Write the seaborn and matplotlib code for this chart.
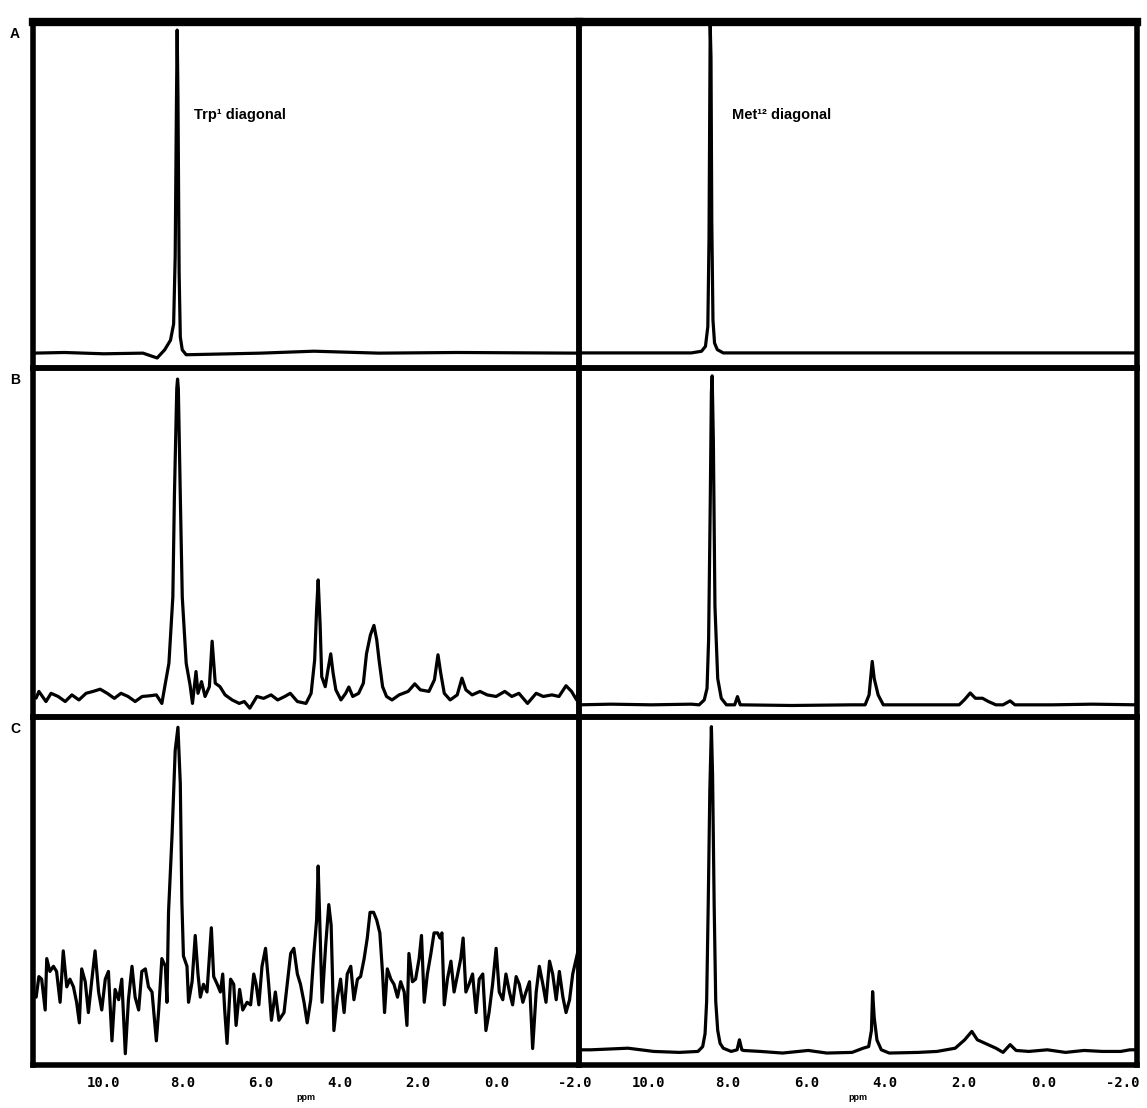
import matplotlib
matplotlib.use("Agg")
import matplotlib.pyplot as plt
import seaborn as sns

# ---------------- data (ppm, relative intensity) ----------------
# Panel A, left: Trp1 diagonal
a_trp_ppm = [11.80, 11.0, 10.0, 9.0, 8.64, 8.45, 8.30, 8.22, 8.18, 8.15, 8.13, 8.11, 8.08, 8.05, 8.00, 7.90, 6.0, 4.65, 3.0, 1.0, -2.10]
a_trp_int = [0.0, 0.002, -0.002, 0.0, -0.015, 0.01, 0.04, 0.09, 0.3, 0.75, 1.0, 0.8, 0.25, 0.05, 0.01, -0.005, 0.0, 0.006, 0.0, 0.002, 0.0]

# Panel A, right: Met diagonal
a_met_ppm = [11.75, 9.92, 8.91, 8.65, 8.55, 8.49, 8.46, 8.43, 8.41, 8.39, 8.36, 8.32, 8.25, 8.10, 5.86, 3.83, 1.80, -0.23, -2.37]
a_met_int = [0.0, 0.0, 0.0, 0.005, 0.02, 0.08, 0.35, 1.0, 0.9, 0.4, 0.1, 0.03, 0.01, 0.0, 0.0, 0.0, 0.0, 0.0, 0.0]

# Panel B, left
b_trp_ppm = [11.72, 11.65, 11.47, 11.34, 11.16, 10.98, 10.81, 10.63, 10.45, 10.27, 10.09, 9.91, 9.73, 9.56, 9.38,
             9.20, 9.02, 8.84, 8.66, 8.52, 8.44, 8.34, 8.24, 8.20, 8.14, 8.12, 8.10, 8.05, 8.00, 7.90, 7.80,
             7.74, 7.65, 7.60, 7.51, 7.42, 7.31, 7.24, 7.16, 7.04, 6.91, 6.73, 6.55, 6.42, 6.28, 6.10, 5.93,
             5.74, 5.57, 5.39, 5.25, 5.07, 4.85, 4.72, 4.63, 4.58, 4.54, 4.49, 4.45, 4.36, 4.29, 4.22, 4.16,
             4.09, 3.96, 3.84, 3.76, 3.66, 3.51, 3.39, 3.31, 3.21, 3.12, 3.05, 2.99, 2.90, 2.80, 2.66, 2.48,
             2.25, 2.08, 1.94, 1.72, 1.58, 1.49, 1.42, 1.33, 1.18, 1.00, 0.88, 0.78, 0.62, 0.42, 0.24, 0.01,
             -0.21, -0.39, -0.57, -0.79, -1.01, -1.19, -1.41, -1.59, -1.77, -1.91, -2.04, -2.10]
b_trp_int = [-0.01, 0.011, -0.021, 0.005, -0.005, -0.021, 0.0, -0.016, 0.005, 0.011, 0.018, 0.005, -0.011, 0.005, -0.005,
             -0.021, -0.005, -0.003, 0.0, -0.027, 0.03, 0.10, 0.31, 0.63, 0.97, 1.0, 0.97, 0.63, 0.31, 0.10, 0.03,
             -0.027, 0.074, 0.005, 0.042, -0.005, 0.026, 0.17, 0.037, 0.026, 0.0, -0.016, -0.027, -0.021, -0.042, -0.005, -0.011,
             0.0, -0.016, -0.005, 0.005, -0.021, -0.027, 0.005, 0.11, 0.27, 0.364, 0.22, 0.058, 0.026, 0.08, 0.13, 0.069,
             0.016, -0.016, 0.005, 0.025, -0.005, 0.005, 0.037, 0.13, 0.19, 0.22, 0.175, 0.11, 0.026, -0.005, -0.016, 0.0,
             0.011, 0.035, 0.016, 0.011, 0.048, 0.127, 0.069, 0.005, -0.016, 0.0, 0.053, 0.016, 0.0, 0.011, 0.0, -0.005,
             0.011, -0.005, 0.005, -0.027, 0.005, -0.005, 0.0, -0.005, 0.029, 0.011, -0.016, 0.02]

# Panel B, right
b_met_ppm = [11.75, 10.94, 9.92, 8.91, 8.71, 8.58, 8.51, 8.47, 8.43, 8.40, 8.38, 8.35, 8.31, 8.24, 8.15, 8.02,
             7.81, 7.74, 7.67, 6.37, 4.85, 4.51, 4.41, 4.33, 4.28, 4.18, 4.05, 3.32, 2.13, 2.00, 1.85, 1.72,
             1.54, 1.39, 1.20, 1.02, 0.84, 0.72, -0.23, -1.24, -2.37]
b_met_int = [0.0, 0.002, 0.0, 0.002, 0.0, 0.015, 0.05, 0.2, 0.6, 0.95, 1.0, 0.8, 0.3, 0.08, 0.02, 0.0,
             0.0, 0.025, 0.0, -0.002, 0.0, 0.0, 0.03, 0.132, 0.08, 0.03, 0.0, 0.0, 0.0, 0.015, 0.036, 0.02,
             0.02, 0.01, 0.0, 0.0, 0.012, 0.0, 0.0, 0.002, 0.0]

# Panel C, left (noisy)
c_trp_ppm = [11.72, 11.65, 11.58, 11.49, 11.45, 11.37, 11.28, 11.20, 11.11, 11.03, 10.94, 10.86, 10.77, 10.69, 10.62,
             10.56, 10.47, 10.39, 10.30, 10.22, 10.13, 10.05, 9.96, 9.88, 9.79, 9.71, 9.62, 9.54, 9.45, 9.37,
             9.28, 9.20, 9.11, 9.03, 8.94, 8.86, 8.77, 8.66, 8.60, 8.52, 8.43, 8.39,
             8.35, 8.26, 8.18, 8.11, 8.05, 8.01, 7.97, 7.88, 7.84, 7.75, 7.67, 7.60, 7.54, 7.46, 7.37, 7.26,
             7.20, 7.11, 7.03, 6.97, 6.92, 6.86, 6.77, 6.69, 6.63, 6.54, 6.46, 6.35, 6.26, 6.18, 6.12, 6.05,
             5.97, 5.88, 5.80, 5.73, 5.63, 5.54, 5.41, 5.33, 5.24, 5.16, 5.07, 4.99,
             4.90, 4.82, 4.73, 4.65, 4.58, 4.54, 4.50, 4.44, 4.35, 4.27, 4.21, 4.14, 4.05, 3.97, 3.88, 3.80,
             3.71, 3.63, 3.54, 3.46, 3.37, 3.29, 3.22, 3.13, 3.05, 2.97, 2.90, 2.85, 2.78, 2.69, 2.61, 2.52,
             2.44, 2.35, 2.28, 2.23, 2.14, 2.06, 1.97, 1.91, 1.84, 1.76, 1.67, 1.59, 1.50, 1.44,
             1.39, 1.33, 1.25, 1.16, 1.08, 0.99, 0.91, 0.85, 0.78, 0.70, 0.61, 0.52, 0.44, 0.35, 0.27, 0.19,
             0.10, 0.01, -0.07, -0.16, -0.24, -0.33, -0.41, -0.50, -0.58, -0.67, -0.75, -0.84, -0.92, -1.01,
             -1.09, -1.18, -1.26, -1.35, -1.43, -1.52, -1.60, -1.69, -1.77, -1.86, -1.94, -2.03, -2.09]
c_trp_int = [-0.05, 0.03, 0.02, -0.10, 0.10, 0.05, 0.07, 0.05, -0.07, 0.13, -0.01, 0.02, -0.01, -0.07, -0.15,
             0.06, 0.01, -0.11, 0.02, 0.13, -0.03, -0.10, 0.02, 0.05, -0.22, -0.02, -0.06, 0.02, -0.27, -0.06,
             0.07, -0.05, -0.10, 0.05, 0.06, -0.01, -0.03, -0.22, -0.10, 0.10, 0.07, -0.07,
             0.28, 0.58, 0.91, 1.0, 0.78, 0.32, 0.11, 0.07, -0.07, 0.01, 0.19, 0.04, -0.05, 0.0, -0.03, 0.22,
             0.03, 0.0, -0.03, 0.04, -0.10, -0.23, 0.02, 0.0, -0.16, -0.02, -0.10, -0.07, -0.08, 0.04, 0.0, -0.08,
             0.07, 0.14, 0.0, -0.14, -0.03, -0.14, -0.11, 0.0, 0.12, 0.14, 0.04, 0.0,
             -0.07, -0.15, -0.06, 0.12, 0.25, 0.46, 0.25, -0.07, 0.15, 0.31, 0.23, -0.18, -0.05, 0.02, -0.11, 0.04,
             0.07, -0.06, 0.02, 0.03, 0.10, 0.18, 0.28, 0.28, 0.25, 0.20, 0.04, -0.11, 0.06, 0.02, 0.0, -0.05,
             0.01, -0.03, -0.16, 0.12, 0.01, 0.02, 0.10, 0.19, -0.07, 0.04, 0.12, 0.20, 0.20, 0.18,
             0.20, -0.08, 0.02, 0.09, -0.03, 0.04, 0.10, 0.18, -0.03, 0.0, 0.04, -0.11, 0.02, 0.04, -0.18, -0.11,
             0.0, 0.14, -0.03, -0.06, 0.04, -0.03, -0.08, 0.03, 0.0, -0.07, -0.03, 0.01, -0.25, -0.03,
             0.07, 0.0, -0.07, 0.09, 0.04, -0.06, 0.05, -0.05, -0.11, -0.06, 0.04, 0.10, 0.14]

# Panel C, right
c_met_ppm = [11.75, 11.45, 11.07, 10.51, 9.86, 9.21, 8.74, 8.62, 8.56, 8.52, 8.48, 8.44, 8.40, 8.37, 8.33,
             8.29, 8.24, 8.18, 8.10, 7.90, 7.75, 7.69, 7.63, 7.59, 7.16, 6.60, 5.95, 5.48, 4.84, 4.56, 4.42,
             4.35, 4.32, 4.28, 4.21, 4.10, 3.90, 3.16, 2.69, 2.23, 1.99, 1.81, 1.67, 1.49, 1.20, 1.02, 0.84,
             0.69, 0.37, -0.10, -0.56, -1.03, -1.49, -1.96, -2.19, -2.37]
c_met_int = [0.0, 0.0, 0.002, 0.005, -0.005, -0.008, -0.005, 0.01, 0.05, 0.15, 0.45, 0.8, 1.0, 0.85, 0.45,
             0.15, 0.06, 0.02, 0.005, -0.005, 0.0, 0.031, 0.0, -0.002, -0.005, -0.01, -0.002, -0.01, -0.008, 0.005, 0.01,
             0.06, 0.18, 0.10, 0.03, 0.0, -0.01, -0.008, -0.005, 0.005, 0.031, 0.057, 0.031, 0.021, 0.005, -0.008, 0.016,
             -0.002, -0.005, 0.0, -0.008, -0.002, -0.005, -0.005, 0.0, 0.0]

panel_letters = ["A", "B", "C"]
panel_texts = ["Trp\u00b9 diagonal", "Met\u00b9\u00b2 diagonal"]
tick_values = [10, 8, 6, 4, 2, 0, -2]
tick_labels = ["10.0", "8.0", "6.0", "4.0", "2.0", "0.0", "-2.0"]
x_label = "ppm"

# ---------------- figure ----------------
sns.set_style("white")
plt.rcParams['font.family'] = ['Liberation Sans', 'DejaVu Sans']
plt.rcParams['text.color'] = 'black'
plt.rcParams['axes.labelcolor'] = 'black'
plt.rcParams['xtick.color'] = 'black'

W, H = 1147, 1108
fig = plt.figure(figsize=(W / 100, H / 100), dpi=100)


def px_axes(x0, x1, y0, y1):
    ax = fig.add_axes([x0 / W, 1 - y1 / H, (x1 - x0) / W, (y1 - y0) / H])
    ax.set_facecolor("none")
    return ax


cols = [(33, 579), (579, 1137)]
xlims = [(11.8, -2.1), (11.75, -2.37)]
rows = [(22, 368), (368, 717), (717, 1065)]
ylims = [[(-0.046, 1.025), (-0.046, 1.009)],
         [(-0.07, 1.035), (-0.037, 1.024)],
         [(-0.314, 1.04), (-0.047, 1.03)]]
series = [[(a_trp_ppm, a_trp_int), (a_met_ppm, a_met_int)],
          [(b_trp_ppm, b_trp_int), (b_met_ppm, b_met_int)],
          [(c_trp_ppm, c_trp_int), (c_met_ppm, c_met_int)]]

for r, (y0, y1) in enumerate(rows):
    for c, (x0, x1) in enumerate(cols):
        ax = px_axes(x0, x1, y0, y1)
        ppm, inten = series[r][c]
        sns.lineplot(x=ppm, y=inten, ax=ax, color="black", linewidth=2.3,
                     estimator=None, sort=False)
        ax.set_xlim(*xlims[c])
        ax.set_ylim(*ylims[r][c])
        ax.set_yticks([])
        ax.set_ylabel("")
        for name, sp in ax.spines.items():
            sp.set_linewidth(6 if (r == 0 and name == "top") else 4)
            sp.set_color("black")
            sp.set_visible(True)
        if r == 2:
            ax.set_xticks(tick_values)
            ax.set_xticklabels(tick_labels, fontfamily="DejaVu Sans Mono",
                               fontweight="bold", fontsize=10, color="black")
            ax.tick_params(axis="x", length=0, pad=8)
            ax.set_xlabel(x_label, fontsize=6.5, fontweight="bold", labelpad=2,
                          color="black")
        else:
            ax.set_xticks([])
            ax.set_xlabel("")
        if r == 0:
            ax.text(0.294 if c == 0 else 0.275, 0.73, panel_texts[c],
                    transform=ax.transAxes, fontsize=10.5, fontweight="bold",
                    ha="left", va="center", color="black")
    fig.text(15 / W, 1 - (y0 + 12) / H, panel_letters[r], fontsize=10,
             fontweight="bold", ha="center", va="center", color="black")

fig.savefig("out.png", dpi=100)
